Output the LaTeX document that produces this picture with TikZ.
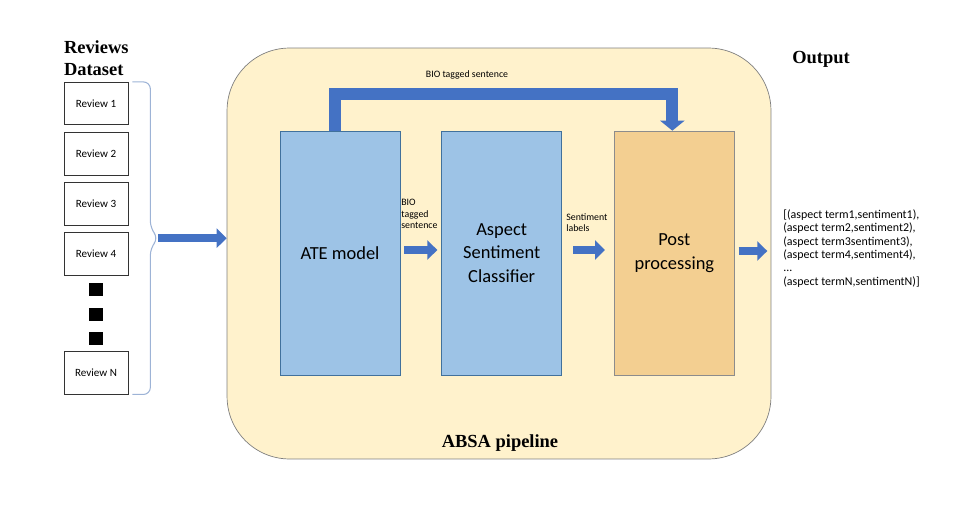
\documentclass[tikz,border=0pt]{standalone}
\usepackage{fontspec}
\setmainfont{Liberation Serif}
\newfontfamily\calibri{Carlito}
\usepackage{tikz}
\usetikzlibrary{arrows.meta}
\usetikzlibrary{positioning,calc}
\definecolor{pipefill}{HTML}{FFF2CC}
\definecolor{pipeedge}{HTML}{7F7F7F}
\definecolor{modelfill}{HTML}{9DC3E6}
\definecolor{modeledge}{HTML}{41719C}
\definecolor{postfill}{HTML}{F3CF91}
\definecolor{postedge}{HTML}{8C8C8C}
\definecolor{flowblue}{HTML}{4472C4}
\definecolor{braceblue}{HTML}{9DB3D6}
\tikzset{
    review/.style={
           rectangle,
           draw=black!80, thin,
           minimum width=1.28cm,
           minimum height=0.85cm,
           font=\calibri\fontsize{6.3}{7}\selectfont,
           },
    dot/.style={
           rectangle,
           fill=black,
           minimum width=0.28cm,
           minimum height=0.26cm,
           inner sep=0pt,
           },
    stage/.style={
           rectangle,
           draw=modeledge, fill=modelfill,
           minimum width=2.4cm,
           minimum height=4.88cm,
           align=center,
           font=\calibri\fontsize{10.5}{13.5}\selectfont,
           },
    flow/.style={
           -{Triangle[length=0.2cm,width=0.38cm]},
           draw=flowblue,
           line width=0.16cm,
           },
    bracestyle/.style={
           draw=braceblue,
           line width=0.6pt,
           rounded corners=0.14cm,
           },
    smalltext/.style={
           font=\calibri\fontsize{5.6}{6.6}\selectfont,
           align=left,
           inner sep=0pt,
           },
    heading/.style={
           font=\bfseries\fontsize{10.5}{12.5}\selectfont,
           inner sep=0pt,
           },
}

\begin{document}
\begin{tikzpicture}[x=0.02cm,y=-0.02cm]
  \useasboundingbox (0,0) rectangle (962,510);
  \node[draw=pipeedge, fill=pipefill, rounded corners=1.25cm,
 minimum width=10.88cm,
 minimum height=8.22cm] (pipe) at (499,253.5) {};
  \node[heading] (pipelabel) at (500,443) {ABSA pipeline};

  \node[review] (r1) at (96,103.5) {Review 1};
  \node[review, below=0.14cm of r1] (r2) {Review 2};
  \node[review, below=0.14cm of r2] (r3) {Review 3};
  \node[review, below=0.14cm of r3] (r4) {Review 4};
  \node[dot, below=0.14cm of r4] (d1) {};
  \node[dot, below=0.22cm of d1] (d2) {};
  \node[dot, below=0.22cm of d2] (d3) {};
  \node[review, below=0.11cm of d3] (rN) {Review N};
  \node[heading, align=left, anchor=south west] (title)
    at ([yshift=0.12cm]r1.north west) {Reviews\\Dataset};

  \coordinate (bracetip) at ($(r1.north east)!0.5!(rN.south east) + (30,0)$);
  \draw[bracestyle] ([xshift=0.08cm]r1.north east) -| ($(bracetip)+(-8,-10)$)
    -- (bracetip) -- ($(bracetip)+(-8,10)$) |- ([xshift=0.08cm]rN.south east);

  \node[stage] (ate) at (340,253) {ATE model};
  \node[stage, right=0.82cm of ate] (asc) {Aspect\\Sentiment\\Classifier};
  \node[stage, draw=postedge, fill=postfill, right=1.04cm of asc] (post) {Post\\processing};

  \node[smalltext] (toplabel) at (467,75) {BIO tagged sentence};
  \node[smalltext, anchor=north west] (biolabel) at (401,199) {BIO\\tagged\\sentence};
  \node[smalltext, anchor=north west] (sentlabel) at (566,213) {Sentiment\\labels};

  \node[heading] (outlabel) at (821,59) {Output};
  \node[smalltext, anchor=west,
 font=\calibri\fontsize{6.8}{7.6}\selectfont] (outtext) at (783,248.5)
 {%
 [(aspect term1,sentiment1),\\
 (aspect term2,sentiment2),\\
 (aspect term3sentiment3),\\
 (aspect term4,sentiment4),\\
 ...\\
 (aspect termN,sentimentN)]
 };

  \draw[flow] (bracetip) -- (pipe.west |- bracetip);
  \draw[flow, shorten <=0.08cm, shorten >=0.08cm]
    ([yshift=0.06cm]ate.east) -- ([yshift=0.06cm]asc.west);
  \draw[flow, shorten <=0.22cm, shorten >=0.18cm]
    ([yshift=0.06cm]asc.east) -- ([yshift=0.06cm]post.west);
  \draw[flow, shorten <=0.08cm, shorten >=0.08cm]
    ([yshift=0.04cm]post.east) -- ([yshift=0.04cm]post.east -| pipe.east);
  \draw[flow, line width=0.24cm, -{Triangle[length=0.2cm,width=0.48cm]}]
    ([xshift=-0.1cm]ate.north) -- ++(0,-37) -| ([xshift=-0.04cm]post.north);
\end{tikzpicture}
\end{document}
